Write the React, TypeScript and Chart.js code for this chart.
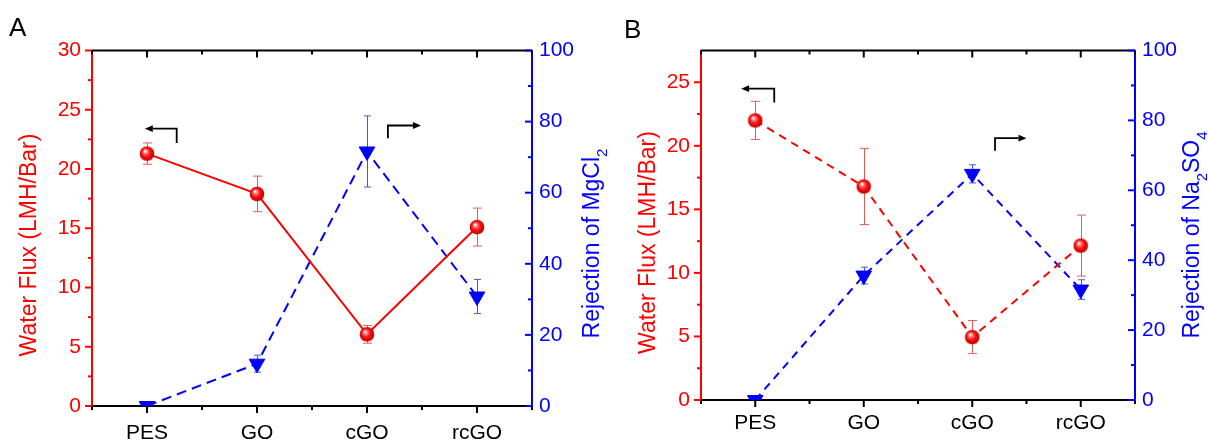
import React, { useEffect, useRef } from "react";
import { Chart, registerables } from "chart.js";
Chart.register(...registerables);

const FONT = '"Liberation Sans", Arial, Helvetica, sans-serif';
const RED = "#ff0000";
const BLUE = "#0000ff";
const TICK_SIZE = 21;
const TITLE_SIZE = 23;

const categories = ["PES", "GO", "cGO", "rcGO"];

// Panel A (MgCl2)
const fluxA = [21.3, 17.9, 6.05, 15.1];
const fluxErrA = [0.9, 1.5, 0.75, 1.6];
const rejA = [0, 11.9, 71.6, 30.8];
const rejErrA = [0, 2.4, 10, 4.8];

// Panel B (Na2SO4)
const fluxB = [22.0, 16.8, 4.95, 12.15];
const fluxErrB = [1.5, 3.0, 1.3, 2.4];
const rejB = [0, 35.6, 64.7, 31.6];
const rejErrB = [0, 2.4, 2.6, 2.8];

const fluxTicksA = [0, 5, 10, 15, 20, 25, 30];
const fluxTicksB = [0, 5, 10, 15, 20, 25];
const rejTicks = [0, 20, 40, 60, 80, 100];

type Seg = { t: string; sub?: boolean };
type Arrow = { axis: "y" | "y1"; pts: number[][] };

const arrowsA: Arrow[] = [
  { axis: "y", pts: [[0.27, 22.2], [0.27, 23.4], [-0.02, 23.4]] },
  { axis: "y1", pts: [[2.19, 75.3], [2.19, 78.9], [2.49, 78.9]] },
];
const arrowsB: Arrow[] = [
  { axis: "y", pts: [[0.175, 23.4], [0.175, 24.5], [-0.13, 24.5]] },
  { axis: "y1", pts: [[2.21, 71.3], [2.21, 74.9], [2.5, 74.9]] },
];

interface PanelCfg {
  flux: number[];
  fluxErr: number[];
  rej: number[];
  rejErr: number[];
  fluxMax: number;
  fluxTicks: number[];
  fluxDash?: number[];
  rejDash: number[];
  leftW: number;
  rightW: number;
  bottomH: number;
  top: number;
  xPad: number;
  letter: string;
  letterX: number;
  letterY: number;
  leftTitle: Seg[];
  leftTitleX: number;
  leftTitleY: number;
  rightTitle: Seg[];
  rightTitleX: number;
  rightTitleY: number;
  arrows: Arrow[];
}

function makeBall(): HTMLCanvasElement {
  const c = document.createElement("canvas");
  c.width = 16;
  c.height = 16;
  const g = c.getContext("2d")!;
  const grad = g.createRadialGradient(6, 5.5, 0.5, 8, 8, 8);
  grad.addColorStop(0, "#ffffff");
  grad.addColorStop(0.18, "#ff8a8a");
  grad.addColorStop(0.5, "#ff1010");
  grad.addColorStop(1, "#b00000");
  g.fillStyle = grad;
  g.beginPath();
  g.arc(8, 8, 7.3, 0, Math.PI * 2);
  g.fill();
  return c;
}

function line(ctx: CanvasRenderingContext2D, x1: number, y1: number, x2: number, y2: number) {
  ctx.beginPath();
  ctx.moveTo(x1, y1);
  ctx.lineTo(x2, y2);
  ctx.stroke();
}

function drawTitle(ctx: CanvasRenderingContext2D, segs: Seg[], cx: number, cy: number, color: string, size: number) {
  ctx.save();
  ctx.translate(cx, cy);
  ctx.rotate(-Math.PI / 2);
  ctx.fillStyle = color;
  ctx.textBaseline = "middle";
  ctx.textAlign = "left";
  const main = `${size}px ${FONT}`;
  const sub = `${Math.round(size * 0.64)}px ${FONT}`;
  const widths = segs.map((s) => {
    ctx.font = s.sub ? sub : main;
    return ctx.measureText(s.t).width;
  });
  const total = widths.reduce((a, b) => a + b, 0);
  let x = -total / 2;
  segs.forEach((s, i) => {
    ctx.font = s.sub ? sub : main;
    ctx.fillText(s.t, x, s.sub ? size * 0.42 : 0);
    x += widths[i];
  });
  ctx.restore();
}

function makeDecor(cfg: PanelCfg) {
  return {
    id: "decor",
    beforeDatasetsDraw(chart: any) {
      const ctx: CanvasRenderingContext2D = chart.ctx;
      const xS = chart.scales.x;
      const sets = [
        { vals: cfg.flux, errs: cfg.fluxErr, scale: chart.scales.y, color: "#e85a5a", cap: 4.5 },
        { vals: cfg.rej, errs: cfg.rejErr, scale: chart.scales.y1, color: "#5050e0", cap: 3.5 },
      ];
      ctx.save();
      ctx.lineWidth = 1;
      sets.forEach((s) => {
        ctx.strokeStyle = s.color;
        s.vals.forEach((v, i) => {
          const e = s.errs[i];
          if (!e) return;
          const px = Math.round(xS.getPixelForValue(i)) + 0.5;
          const t = s.scale.getPixelForValue(v + e);
          const b = s.scale.getPixelForValue(v - e);
          line(ctx, px, t, px, b);
          line(ctx, px - s.cap, t, px + s.cap, t);
          line(ctx, px - s.cap, b, px + s.cap, b);
        });
      });
      ctx.restore();
    },
    afterDraw(chart: any) {
      const ctx: CanvasRenderingContext2D = chart.ctx;
      const ca = chart.chartArea;
      const xS = chart.scales.x;
      const yS = chart.scales.y;
      const y1S = chart.scales.y1;
      ctx.save();
      ctx.lineWidth = 2;
      ctx.lineCap = "butt";
      // top frame
      ctx.strokeStyle = "#000";
      line(ctx, ca.left, ca.top, ca.right, ca.top);
      // x ticks (bottom outward, top inward)
      categories.forEach((_, i) => {
        const px = xS.getPixelForValue(i);
        line(ctx, px, ca.bottom, px, ca.bottom + 7);
        line(ctx, px, ca.top, px, ca.top + 7);
      });
      for (let i = -0.5; i <= categories.length - 0.5; i += 1) {
        const px = xS.getPixelForValue(i);
        line(ctx, px, ca.bottom, px, ca.bottom + 4);
        line(ctx, px, ca.top, px, ca.top + 4);
      }
      // left axis ticks (outward)
      ctx.strokeStyle = RED;
      const ft = cfg.fluxTicks;
      ft.forEach((v) => {
        const py = yS.getPixelForValue(v);
        line(ctx, ca.left - 7, py, ca.left, py);
      });
      ft.slice(1).forEach((v, i) => {
        const py = yS.getPixelForValue((v + ft[i]) / 2);
        line(ctx, ca.left - 4, py, ca.left, py);
      });
      // right axis ticks (inward)
      ctx.strokeStyle = BLUE;
      rejTicks.forEach((v) => {
        const py = y1S.getPixelForValue(v);
        line(ctx, ca.right - 7, py, ca.right, py);
      });
      rejTicks.slice(1).forEach((v, i) => {
        const py = y1S.getPixelForValue((v + rejTicks[i]) / 2);
        line(ctx, ca.right - 4, py, ca.right, py);
      });
      // arrows
      ctx.strokeStyle = "#000";
      ctx.fillStyle = "#000";
      ctx.lineWidth = 1.8;
      cfg.arrows.forEach((a) => {
        const sc = chart.scales[a.axis];
        const p = a.pts.map((q) => [xS.getPixelForValue(q[0]), sc.getPixelForValue(q[1])]);
        const n = p.length;
        const tip = p[n - 1];
        const prev = p[n - 2];
        const ang = Math.atan2(tip[1] - prev[1], tip[0] - prev[0]);
        const hl = 8;
        const hw = 3.4;
        const base = [tip[0] - Math.cos(ang) * hl, tip[1] - Math.sin(ang) * hl];
        ctx.beginPath();
        ctx.moveTo(p[0][0], p[0][1]);
        for (let k = 1; k < n - 1; k++) ctx.lineTo(p[k][0], p[k][1]);
        ctx.lineTo(base[0], base[1]);
        ctx.stroke();
        ctx.beginPath();
        ctx.moveTo(tip[0], tip[1]);
        ctx.lineTo(base[0] - Math.sin(ang) * hw, base[1] + Math.cos(ang) * hw);
        ctx.lineTo(base[0] + Math.sin(ang) * hw, base[1] - Math.cos(ang) * hw);
        ctx.closePath();
        ctx.fill();
      });
      // titles
      drawTitle(ctx, cfg.leftTitle, cfg.leftTitleX, cfg.leftTitleY, RED, TITLE_SIZE);
      drawTitle(ctx, cfg.rightTitle, cfg.rightTitleX, cfg.rightTitleY, BLUE, TITLE_SIZE);
      // panel letter
      ctx.fillStyle = "#000";
      ctx.font = `26px ${FONT}`;
      ctx.textBaseline = "alphabetic";
      ctx.textAlign = "left";
      ctx.fillText(cfg.letter, cfg.letterX, cfg.letterY);
      ctx.restore();
    },
  };
}

function buildConfig(cfg: PanelCfg, ball: HTMLCanvasElement): any {
  return {
    type: "line",
    data: {
      labels: categories,
      datasets: [
        {
          label: "Water Flux",
          data: cfg.flux,
          yAxisID: "y",
          borderColor: RED,
          backgroundColor: RED,
          borderWidth: 2,
          borderDash: cfg.fluxDash || [],
          pointStyle: ball,
          pointRadius: 7,
          tension: 0,
          fill: false,
        },
        {
          label: "Rejection",
          data: cfg.rej,
          yAxisID: "y1",
          borderColor: BLUE,
          backgroundColor: BLUE,
          borderWidth: 2,
          borderDash: cfg.rejDash,
          pointStyle: "triangle",
          rotation: 180,
          pointRadius: 9,
          pointBorderWidth: 1,
          pointBackgroundColor: BLUE,
          pointBorderColor: BLUE,
          tension: 0,
          fill: false,
        },
      ],
    },
    options: {
      animation: false,
      responsive: false,
      maintainAspectRatio: false,
      events: [],
      layout: { padding: { top: cfg.top, left: 0, right: 0, bottom: 0 } },
      plugins: { legend: { display: false }, tooltip: { enabled: false } },
      scales: {
        x: {
          type: "category",
          offset: true,
          grid: { display: false, drawTicks: false, tickLength: 0 },
          border: { display: true, color: "#000", width: 2 },
          ticks: { color: "#000", font: { family: FONT, size: TICK_SIZE }, padding: cfg.xPad, autoSkip: false, maxRotation: 0 },
          afterFit: (s: any) => {
            s.height = cfg.bottomH;
          },
        },
        y: {
          type: "linear",
          position: "left",
          min: 0,
          max: cfg.fluxMax,
          grid: { display: false, drawTicks: false, tickLength: 0 },
          border: { display: true, color: RED, width: 2 },
          ticks: { color: RED, font: { family: FONT, size: TICK_SIZE }, padding: 11, callback: (v: any) => String(v) },
          afterBuildTicks: (s: any) => {
            s.ticks = cfg.fluxTicks.map((v) => ({ value: v }));
          },
          afterFit: (s: any) => {
            s.width = cfg.leftW;
          },
        },
        y1: {
          type: "linear",
          position: "right",
          min: 0,
          max: 100,
          grid: { display: false, drawTicks: false, tickLength: 0 },
          border: { display: true, color: BLUE, width: 2 },
          ticks: { color: BLUE, font: { family: FONT, size: TICK_SIZE }, padding: 7, callback: (v: any) => String(v) },
          afterBuildTicks: (s: any) => {
            s.ticks = rejTicks.map((v) => ({ value: v }));
          },
          afterFit: (s: any) => {
            s.width = cfg.rightW;
          },
        },
      },
    },
    plugins: [makeDecor(cfg)],
  };
}

const cfgA: PanelCfg = {
  flux: fluxA,
  fluxErr: fluxErrA,
  rej: rejA,
  rejErr: rejErrA,
  fluxMax: 30,
  fluxTicks: fluxTicksA,
  fluxDash: undefined,
  rejDash: [10, 6],
  leftW: 92,
  rightW: 88,
  bottomH: 38,
  top: 50.5,
  xPad: 14.4,
  letter: "A",
  letterX: 9,
  letterY: 36,
  leftTitle: [{ t: "Water Flux (LMH/Bar)" }],
  leftTitleX: 29.5,
  leftTitleY: 245,
  rightTitle: [{ t: "Rejection of MgCl" }, { t: "2", sub: true }],
  rightTitleX: 593,
  rightTitleY: 243.5,
  arrows: arrowsA,
};

const cfgB: PanelCfg = {
  flux: fluxB,
  fluxErr: fluxErrB,
  rej: rejB,
  rejErr: rejErrB,
  fluxMax: 27.5,
  fluxTicks: fluxTicksB,
  fluxDash: [8, 6],
  rejDash: [8, 6],
  leftW: 91,
  rightW: 73,
  bottomH: 44,
  top: 50.5,
  xPad: 10.9,
  letter: "B",
  letterX: 14,
  letterY: 38,
  leftTitle: [{ t: "Water Flux (LMH/Bar)" }],
  leftTitleX: 38.6,
  leftTitleY: 242.5,
  rightTitle: [{ t: "Rejection of Na" }, { t: "2", sub: true }, { t: "SO" }, { t: "4", sub: true }],
  rightTitleX: 583,
  rightTitleY: 235,
  arrows: arrowsB,
};

export default function App() {
  const refA = useRef<HTMLCanvasElement>(null);
  const refB = useRef<HTMLCanvasElement>(null);
  useEffect(() => {
    const ball = makeBall();
    const a = new Chart(refA.current!, buildConfig(cfgA, ball));
    const b = new Chart(refB.current!, buildConfig(cfgB, ball));
    return () => {
      a.destroy();
      b.destroy();
    };
  }, []);
  return (
    <div style={{ position: "absolute", left: 0, top: 0, width: 1208, height: 444, background: "#fff", overflow: "hidden" }}>
      <canvas ref={refA} width={620} height={444} style={{ position: "absolute", left: 0, top: 0 }} />
      <canvas ref={refB} width={598} height={444} style={{ position: "absolute", left: 610, top: 0 }} />
    </div>
  );
}
